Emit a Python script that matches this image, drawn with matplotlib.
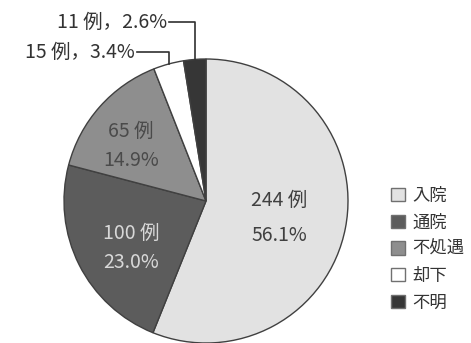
import numpy as np
import matplotlib
matplotlib.use("Agg")
import matplotlib.pyplot as plt

plt.rcParams['font.family'] = ['Noto Sans CJK JP', 'DejaVu Sans']

# data
categories = ['入院', '通院', '不処遇', '却下', '不明']
counts = [244, 100, 65, 15, 11]
percents = [56.1, 23.0, 14.9, 3.4, 2.6]
colors = ['#e2e2e2', '#5c5c5c', '#8e8e8e', '#ffffff', '#363636']

W, H = 471, 343
fig = plt.figure(figsize=(W / 100, H / 100), dpi=100)
ax = fig.add_axes([0, 0, 1, 1])

cx, cy, r = 206, 142, 142
wedges, _ = ax.pie(counts, colors=colors, startangle=90, counterclock=False,
                   center=(cx, cy), radius=r, frame=True,
                   wedgeprops=dict(edgecolor='#404040', linewidth=1.0))
ax.set_xlim(0, W)
ax.set_ylim(0, H)
ax.set_aspect('equal')
ax.axis('off')

# labels inside the pie: x, y, colour, line spacing
inner = [(279, 125, '#404040', 1.9), (131, 95, '#d8d8d8', 1.5), (131, 197, '#4a4a4a', 1.5)]
for i, (x, y, c, ls) in enumerate(inner):
    ax.text(x, y, f'{counts[i]} 例\n{percents[i]:.1f}%', ha='center', va='center',
            fontsize=14, color=c, linespacing=ls)

# small slices: text with leader lines
outer_y = {3: 291, 4: 321}
text_x = {3: 135, 4: 167}
for i in (3, 4):
    w = wedges[i]
    mid = np.deg2rad((w.theta1 + w.theta2) / 2)
    px = cx + r * np.cos(mid)
    py = cy + r * np.sin(mid)
    ty = outer_y[i]
    ax.plot([text_x[i] + 2, px, px], [ty, ty, py], color='#303030', lw=1.2)
    ax.text(text_x[i], ty, f'{counts[i]} 例，{percents[i]:.1f}%', ha='right', va='center',
            fontsize=14, color='#333333')

leg = ax.legend(wedges, categories, loc='upper left', bbox_to_anchor=(382 / W, 1 - 178 / H),
                frameon=False, fontsize=12.5, handlelength=0.8, handleheight=0.8,
                handletextpad=0.45, labelspacing=0.5, borderpad=0)
for t in leg.get_texts():
    t.set_color('#333333')
for h in leg.legend_handles:
    h.set_edgecolor('#707070')

fig.savefig('out.png', dpi=100)
